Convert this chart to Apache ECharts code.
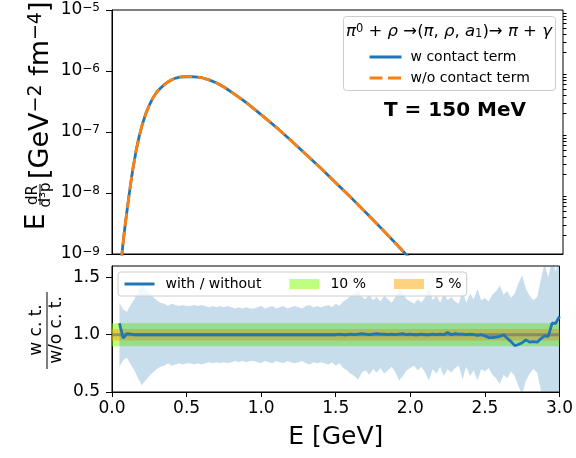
<!DOCTYPE html>
<html><head><meta charset="utf-8">
<script src="https://cdn.jsdelivr.net/npm/echarts@6/dist/echarts.min.js"></script>
<style>html,body{margin:0;padding:0;background:#fff}#c{width:576px;height:458px}</style>
</head><body><div id="c"></div>
<script>
// ---------- data ----------
const energyRate = [0.06,0.065,0.07,0.08,0.09,0.10,0.11,0.12,0.13,0.14,0.16,0.18,0.20,0.225,0.25,0.275,0.30,0.325,0.35,0.375,0.40,0.425,0.45,0.50,0.55,0.60,0.65,0.70,0.75,0.80,0.85,0.90,1.00,1.10,1.20,1.30,1.40,1.50,1.60,1.70,1.80,1.90,1.95,2.00];
const rateWithContact = [7.1e-10,9.3e-10,1.23e-9,2.09e-9,3.31e-9,5.13e-9,7.94e-9,1.20e-8,1.78e-8,2.57e-8,4.90e-8,8.32e-8,1.29e-7,2.0e-7,2.82e-7,3.72e-7,4.57e-7,5.31e-7,6.03e-7,6.68e-7,7.24e-7,7.67e-7,7.94e-7,8.13e-7,8.04e-7,7.76e-7,7.08e-7,6.31e-7,5.37e-7,4.42e-7,3.63e-7,2.95e-7,1.86e-7,1.15e-7,6.92e-8,4.07e-8,2.40e-8,1.38e-8,7.94e-9,4.47e-9,2.51e-9,1.38e-9,1.02e-9,7.59e-10];
const rateWithoutContact = [7.1e-10,9.3e-10,1.23e-9,2.09e-9,3.31e-9,5.13e-9,7.94e-9,1.20e-8,1.78e-8,2.57e-8,4.90e-8,8.32e-8,1.29e-7,2.0e-7,2.82e-7,3.72e-7,4.57e-7,5.31e-7,6.03e-7,6.68e-7,7.24e-7,7.67e-7,7.94e-7,8.13e-7,8.04e-7,7.76e-7,7.08e-7,6.31e-7,5.37e-7,4.42e-7,3.63e-7,2.95e-7,1.86e-7,1.15e-7,6.92e-8,4.07e-8,2.40e-8,1.38e-8,7.94e-9,4.47e-9,2.51e-9,1.38e-9,1.02e-9,7.59e-10];

const energyRatio = [0.05,0.075,0.1,0.125,0.15,0.175,0.2,0.225,0.25,0.275,
0.3,0.325,0.35,0.375,0.4,0.425,0.45,0.475,0.5,0.525,
0.55,0.575,0.6,0.625,0.65,0.675,0.7,0.725,0.75,0.775,
0.8,0.825,0.85,0.875,0.9,0.925,0.95,0.975,1.0,1.025,
1.05,1.075,1.1,1.125,1.15,1.175,1.2,1.225,1.25,1.275,
1.3,1.325,1.35,1.375,1.4,1.425,1.45,1.475,1.5,1.525,
1.55,1.575,1.6,1.625,1.65,1.675,1.7,1.725,1.75,1.775,
1.8,1.825,1.85,1.875,1.9,1.925,1.95,1.975,2.0,2.025,
2.05,2.075,2.1,2.125,2.15,2.175,2.2,2.225,2.25,2.275,
2.3,2.325,2.35,2.375,2.4,2.425,2.45,2.475,2.5,2.525,
2.55,2.575,2.6,2.625,2.65,2.675,2.7,2.725,2.75,2.775,
2.8,2.825,2.85,2.875,2.9,2.925,2.95,2.975,3.0];
const ratioValues = [1.10,0.97,1.01,1.005,1.0,1.0,1.0,1.0,1.0,1.0,
1.0,1.0,1.0,1.0,1.0,1.0,1.0,1.0,1.0,1.0,
1.0,1.0,1.0,1.0,1.0,1.0,1.0,1.0,1.0,1.0,
1.0,1.0,1.0,1.0,1.0,1.0,1.0,1.0,1.0,1.0,
1.0,1.0,1.0,1.0,1.0,1.0,1.0,1.0,1.0,1.0,
1.0,1.0,1.0,1.0,1.0,1.0,1.0,1.0,1.0,1.005,
1.0,1.0,1.005,1.0,1.005,1.01,1.005,1.0,1.005,1.01,
1.005,1.005,1.0,1.005,1.0,1.005,1.01,1.0,1.005,1.0,
1.0,1.005,1.0,1.0,1.005,1.0,1.005,1.0,1.02,1.0,
1.01,1.005,1.005,1.0,1.005,1.0,0.995,1.0,0.99,0.975,
0.975,0.98,0.985,1.0,0.97,0.94,0.905,0.915,0.93,0.955,
0.935,0.94,0.935,0.965,0.99,0.985,1.10,1.10,1.16];
// half width of the light-blue uncertainty band around 1
const bandHalfWidth = [0.28,0.22,0.20,0.26,0.31,0.38,0.44,0.40,0.36,0.33,
0.30,0.28,0.27,0.25,0.27,0.26,0.25,0.26,0.25,0.25,
0.26,0.25,0.26,0.25,0.24,0.25,0.24,0.25,0.24,0.25,
0.24,0.23,0.24,0.23,0.24,0.23,0.23,0.24,0.25,0.23,
0.24,0.25,0.23,0.24,0.25,0.23,0.24,0.25,0.24,0.23,
0.25,0.26,0.24,0.25,0.24,0.25,0.26,0.24,0.27,0.25,
0.29,0.31,0.34,0.36,0.39,0.33,0.31,0.35,0.30,0.33,
0.29,0.34,0.31,0.28,0.33,0.40,0.36,0.31,0.29,0.27,
0.31,0.28,0.33,0.40,0.30,0.34,0.28,0.36,0.30,0.33,
0.29,0.27,0.39,0.28,0.36,0.31,0.40,0.30,0.32,0.29,
0.35,0.38,0.43,0.35,0.38,0.32,0.36,0.45,0.52,0.40,
0.34,0.30,0.33,0.48,0.62,0.50,0.66,0.55,0.70];
const band10 = [0.9, 1.1];
const band5 = [0.95, 1.05];
const refLevel = 1.0;
const xRange = [0, 3];
const yTopMajor = [1e-9, 1e-8, 1e-7, 1e-6, 1e-5];
const yTopMinor = [];
[1e-9,1e-8,1e-7,1e-6].forEach(d => { for (let k = 2; k <= 9; k++) yTopMinor.push(k * d); });
const yBottomTicks = [0.5, 1.0, 1.5];

// ---------- build ----------
const FONT = 'DejaVu Sans';
const TICK_FS = 17;
const zip = (a, b) => a.map((v, i) => [v, b[i]]);
const bandLow = energyRatio.map((e, i) => refLevel - bandHalfWidth[i]);
const bandHigh = energyRatio.map((e, i) => refLevel + bandHalfWidth[i]);

function bandSeries(name, xs, lows, highs, fill, z) {
  return {
    name, type: 'custom', xAxisIndex: 1, yAxisIndex: 2, clip: true, silent: true, z,
    color: fill, data: [[xs[0], lows[0]]],
    renderItem: (params, api) => {
      const pts = [];
      for (let i = 0; i < xs.length; i++) pts.push(api.coord([xs[i], highs[i]]));
      for (let i = xs.length - 1; i >= 0; i--) pts.push(api.coord([xs[i], lows[i]]));
      const cs = params.coordSys;
      return {type: 'group',
        clipPath: {type: 'rect', shape: {x: cs.x, y: cs.y, width: cs.width, height: cs.height}},
        children: [{type: 'polygon', shape: {points: pts}, style: {fill, stroke: null}}]};
    }
  };
}

const chart = echarts.init(document.getElementById('c'), null, {renderer: 'canvas'});
const axisLine = {show: true, lineStyle: {color: '#000', width: 1}};
const supRich = {
  b: {fontSize: TICK_FS, lineHeight: 17, verticalAlign: 'bottom', fontFamily: FONT, color: '#000'},
  s: {fontSize: 12, lineHeight: 12, verticalAlign: 'top', padding: [0, 0, 10, 0], fontFamily: FONT, color: '#000'}
};
const option = {
  animation: false,
  textStyle: {fontFamily: FONT},
  grid: [
    {left: 112, width: 451, top: 10, height: 244, show: true, borderColor: '#000', borderWidth: 1},
    {left: 112, width: 451, top: 266, height: 126, show: true, borderColor: '#000', borderWidth: 1}
  ],
  xAxis: [
    {gridIndex: 0, type: 'value', min: xRange[0], max: xRange[1], axisLine,
     axisTick: {show: false}, axisLabel: {show: false}, splitLine: {show: false}},
    {gridIndex: 1, type: 'value', min: xRange[0], max: xRange[1], interval: 0.5, axisLine,
     axisTick: {show: true, length: 5, lineStyle: {color: '#000'}},
     axisLabel: {color: '#000', fontSize: TICK_FS, margin: 8, formatter: v => v.toFixed(1)},
     splitLine: {show: false},
     name: 'E [GeV]', nameLocation: 'middle', nameGap: 33,
     nameTextStyle: {color: '#000', fontSize: 25, fontFamily: FONT}}
  ],
  yAxis: [
    {gridIndex: 0, type: 'log', logBase: 10, min: 1e-9, max: 1e-5, axisLine,
     axisTick: {show: true, length: 6, customValues: yTopMajor, lineStyle: {color: '#000'}},
     axisLabel: {color: '#000', fontSize: TICK_FS, margin: 12, customValues: yTopMajor, rich: supRich,
       formatter: v => '{b|10}{s|' + String(Math.round(Math.log10(v))).replace('-', '−') + '}'},
     splitLine: {show: false}, minorTick: {show: false}},
    {gridIndex: 0, type: 'log', logBase: 10, min: 1e-9, max: 1e-5, axisLine: {show: false},
     axisTick: {show: true, length: 3.5, customValues: yTopMinor, lineStyle: {color: '#000'}},
     axisLabel: {show: false}, splitLine: {show: false}},
    {gridIndex: 1, type: 'value', min: 0.5, max: 1.6, interval: 0.5, axisLine,
     axisTick: {show: true, length: 6, customValues: yBottomTicks, lineStyle: {color: '#000'}},
     axisLabel: {color: '#000', fontSize: TICK_FS, margin: 12, customValues: yBottomTicks, formatter: v => v.toFixed(1)},
     splitLine: {show: false}}
  ],
  legend: [
    {data: ['w contact term', 'w/o contact term'], orient: 'vertical', left: 368, top: 50,
     padding: 0, itemWidth: 32, itemHeight: 14, itemGap: 7, z: 12,
     itemStyle: {opacity: 0}, lineStyle: {width: 3},
     textStyle: {fontSize: 14, color: '#000', fontFamily: FONT, padding: [0, 0, 0, 4]}},
    {data: ['with / without', {name: '10 %', icon: 'rect', itemStyle: {color: '#bfff80', borderWidth: 0, opacity: 1}},
            {name: '5 %', icon: 'rect', itemStyle: {color: '#ffd280', borderWidth: 0, opacity: 1}}],
     orient: 'horizontal', left: 118, top: 272, padding: [5, 5, 5, 5], itemWidth: 30, itemHeight: 10, itemGap: 28,
     itemStyle: {opacity: 0}, lineStyle: {width: 3},
     backgroundColor: 'rgba(255,255,255,0.8)', borderColor: '#cccccc', borderWidth: 1, borderRadius: 3, z: 12,
     textStyle: {fontSize: 14, color: '#000', fontFamily: FONT, padding: [0, 0, 0, 6]}}
  ],
  graphic: [
    {type: 'rect', z: 10, shape: {x: 343.5, y: 16.5, width: 212, height: 74, r: 3},
     style: {fill: 'rgba(255,255,255,0.8)', stroke: '#cccccc', lineWidth: 1}},
    {type: 'text', z: 11, x: 449, y: 32,
     style: {text: '{i|π}{s|0} + {i|ρ} →({i|π}, {i|ρ}, {i|a}{d|1})→ {i|π} + {i|γ}', align: 'center', verticalAlign: 'middle',
       font: '16.5px "DejaVu Sans"', fill: '#000',
       rich: {i: {fontStyle: 'italic', fontSize: 16.5, fontFamily: FONT, lineHeight: 16, verticalAlign: 'middle'},
              s: {fontSize: 11.5, lineHeight: 11, fontFamily: FONT, verticalAlign: 'top', padding: [0, 0, 10, 0]},
              d: {fontSize: 11.5, lineHeight: 11, fontFamily: FONT, verticalAlign: 'bottom', padding: [8, 0, 0, 0]}}}},
    {type: 'text', z: 11, x: 455, y: 111,
     style: {text: 'T = 150 MeV', align: 'center', verticalAlign: 'middle', font: 'bold 20px "DejaVu Sans"', fill: '#000'}},
    // top y-axis label, rotated
    {type: 'group', x: 37.5, y: 230, rotation: Math.PI / 2, children: [
      {type: 'text', x: 0, y: 0, style: {text: 'E', align: 'left', verticalAlign: 'middle', font: '26px "DejaVu Sans"', fill: '#000'}},
      {type: 'text', x: 35, y: -4.5, style: {text: 'dR', align: 'center', verticalAlign: 'middle', font: '15px "DejaVu Sans"', fill: '#000'}},
      {type: 'line', shape: {x1: 25, y1: 2.5, x2: 46, y2: 2.5}, style: {stroke: '#000', lineWidth: 1}},
      {type: 'text', x: 35, y: 9, style: {text: 'd³p', align: 'center', verticalAlign: 'middle', font: '15px "DejaVu Sans"', fill: '#000'}},
      {type: 'text', x: 51, y: 3, style: {text: '[GeV{s|−2} fm{s|−4}]', align: 'left', verticalAlign: 'middle',
        font: '27px "DejaVu Sans"', fill: '#000',
        rich: {s: {fontSize: 19, lineHeight: 19, fontFamily: FONT, verticalAlign: 'top', padding: [0, 0, 14, 0]}}}}
    ]},
    // bottom y-axis label, rotated fraction
    {type: 'group', x: 47, y: 330, rotation: Math.PI / 2, children: [
      {type: 'text', x: 0, y: -10, style: {text: 'w c. t.', align: 'center', verticalAlign: 'middle', font: '17px "DejaVu Sans"', fill: '#000'}},
      {type: 'line', shape: {x1: -39, y1: 0, x2: 38, y2: 0}, style: {stroke: '#000', lineWidth: 1}},
      {type: 'text', x: 0, y: 10, style: {text: 'w/o c. t.', align: 'center', verticalAlign: 'middle', font: '17px "DejaVu Sans"', fill: '#000'}}
    ]}
  ],
  series: [
    {name: 'w contact term', type: 'line', xAxisIndex: 0, yAxisIndex: 0, data: zip(energyRate, rateWithContact),
     symbol: 'none', showSymbol: false, color: '#1f77b4', lineStyle: {width: 2.8, color: '#1f77b4'}, z: 3},
    {name: 'w/o contact term', type: 'line', xAxisIndex: 0, yAxisIndex: 0, data: zip(energyRate, rateWithoutContact),
     symbol: 'none', showSymbol: false, color: '#ff7f0e', lineStyle: {width: 2.8, color: '#ff7f0e', type: [13, 5.5]}, z: 4},
    bandSeries('10 %', xRange, [band10[0], band10[0]], [band10[1], band10[1]], 'rgba(127,255,0,0.5)', 2),
    bandSeries('5 %', xRange, [band5[0], band5[0]], [band5[1], band5[1]], 'rgba(255,165,0,0.5)', 3),
    bandSeries('_uncertainty', energyRatio, bandLow, bandHigh, 'rgba(31,119,180,0.25)', 4),
    {name: '_ref', type: 'line', xAxisIndex: 1, yAxisIndex: 2, symbol: 'none', showSymbol: false, z: 5,
     data: [[xRange[0], refLevel], [xRange[1], refLevel]], lineStyle: {color: 'rgba(110,110,110,0.6)', width: 3}, silent: true},
    {name: 'with / without', type: 'line', xAxisIndex: 1, yAxisIndex: 2, data: zip(energyRatio, ratioValues), z: 6,
     symbol: 'none', showSymbol: false, color: '#1f77b4', lineStyle: {width: 2.8, color: '#1f77b4'}}
  ]
};
chart.setOption(option);
</script>
</body></html>
